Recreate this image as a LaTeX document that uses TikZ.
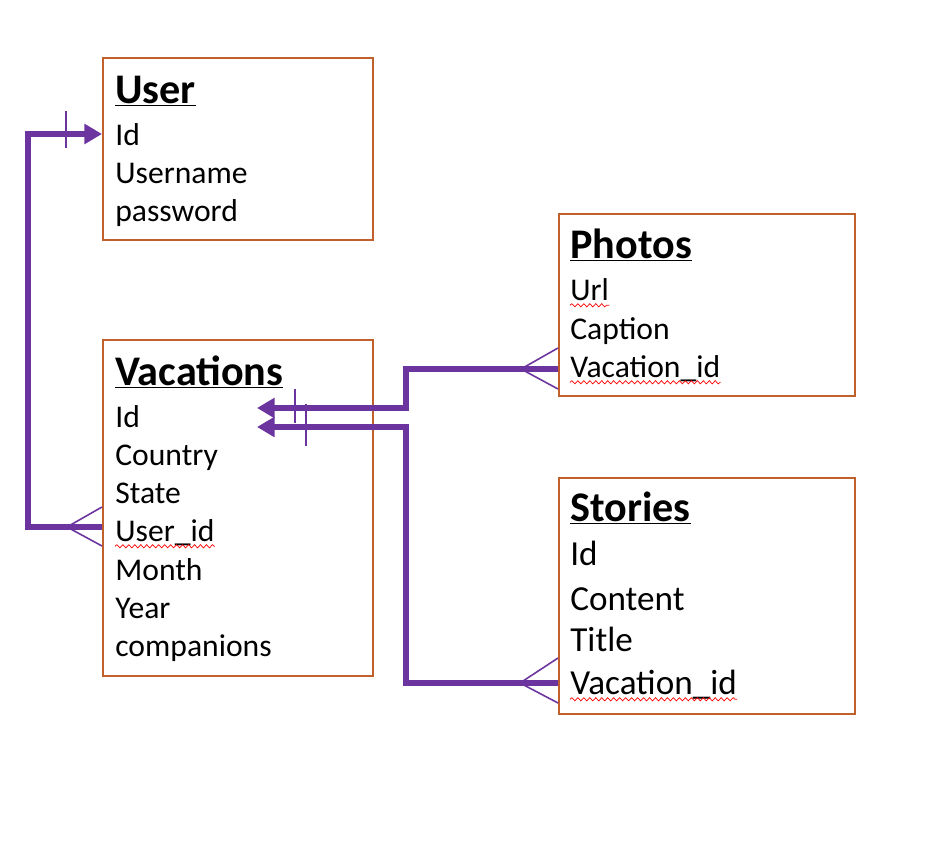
\documentclass[tikz,border=0pt]{standalone}
\usepackage{fontspec}
\setmainfont{Carlito}
\usetikzlibrary{arrows.meta, decorations.pathmorphing}
\definecolor{tblbrown}{RGB}{192,96,44}
\definecolor{relpurple}{RGB}{108,52,158}
\begin{document}
\begin{tikzpicture}
        [x=0.02cm, y=-0.02cm,
        table/.style={draw=tblbrown, line width=1.1pt, anchor=north west, inner sep=0pt},
        title/.style={anchor=base west, inner sep=0pt, font=\fontsize{24}{28}\selectfont\bfseries},
        field/.style={anchor=base west, inner sep=0pt, font=\fontsize{18}{22}\selectfont},
        bigfield/.style={field, font=\fontsize{20}{24}\selectfont},
        rel/.style={draw=relpurple, line width=3.3pt},
        arr/.style={rel, -{Triangle[length=10pt, width=11pt]}},
        foot/.style={draw=relpurple, line width=0.9pt},
        spell/.style={draw=red, line width=0.4pt, decorate,
           decoration={snake, amplitude=0.9pt, segment length=3.4pt}}]
        \useasboundingbox (0,0) rectangle (932,852);
        % tables
        \node (user) at (102,57) [table, minimum width=5.4cm, minimum height=3.64cm] {};
        \node (vac) at (102,339) [table, minimum width=5.4cm, minimum height=6.72cm] {};
        \node (photo) at (558,213) [table, minimum width=5.92cm, minimum height=3.64cm] {};
        \node (story) at (558,477) [table, minimum width=5.92cm, minimum height=4.72cm] {};
        % User
        \node (uT) at (115,103) [title] {\underline{User}};
        \node (uId) at (115,145) [field] {Id};
        \node (uName) at (115,183) [field] {Username};
        \node (uPass) at (115,221) [field] {password};
        % Vacations
        \node (vT) at (115,385) [title] {\underline{Vacations}};
        \node (vId) at (115,427) [field] {Id};
        \node (vCountry) at (115,465) [field] {Country};
        \node (vState) at (115,503) [field] {State};
        \node (vUid) at (115,541) [field] {User\_id};
        \node (vMonth) at (115,580) [field] {Month};
        \node (vYear) at (115,618) [field] {Year};
        \node (vComp) at (115,656) [field] {companions};
        % Photos
        \node (pT) at (570,258) [title] {\underline{Photos}};
        \node (pUrl) at (570,300) [field] {Url};
        \node (pCap) at (570,339) [field] {Caption};
        \node (pVid) at (570,377) [field] {Vacation\_id};
        % Stories
        \node (sT) at (570,521) [title] {\underline{Stories}};
        \node (sId) at (570,565) [bigfield] {Id};
        \node (sCont) at (570,610) [bigfield] {Content};
        \node (sTitle) at (570,651) [bigfield] {Title};
        \node (sVid) at (570,694) [bigfield] {Vacation\_id};
        % spelling marks
        \draw[spell] ([yshift=-3pt]vUid.base west) -- ([yshift=-3pt]vUid.base east);
        \draw[spell] ([yshift=-3pt]pUrl.base west) -- ([yshift=-3pt]pUrl.base east);
        \draw[spell] ([yshift=-3pt]pVid.base west) -- ([yshift=-3pt]pVid.base east);
        \draw[spell] ([yshift=-3pt]sVid.base west) -- ([yshift=-3pt]sVid.base east);
        % arrow ends inside Vacations
        \coordinate (vIdIn1) at (257,408);
        \coordinate (vIdIn2) at (257,427);
        % Vacations -> User
        \draw[arr] (vac.west |- 0,527) -- (28,527) |- (user.west |- 0,134);
        \draw[foot] (67,527) -- (vac.west |- 0,507);
        \draw[foot] (67,527) -- (vac.west |- 0,546);
        \draw[foot] (66,111) -- (66,148);
        % Photos -> Vacations
        \draw[arr] (photo.west |- 0,369) -- (406,369) |- (vIdIn1);
        \draw[foot] (521,369) -- (photo.west |- 0,348);
        \draw[foot] (521,369) -- (photo.west |- 0,389);
        % Stories -> Vacations
        \draw[arr] (story.west |- 0,683) -- (406,683) |- (vIdIn2);
        \draw[foot] (520,683) -- (story.west |- 0,658);
        \draw[foot] (520,683) -- (story.west |- 0,703);
        \draw[foot] (295,389) -- (295,423);
        \draw[foot] (306,404) -- (306,446);
     \end{tikzpicture}
\end{document}
